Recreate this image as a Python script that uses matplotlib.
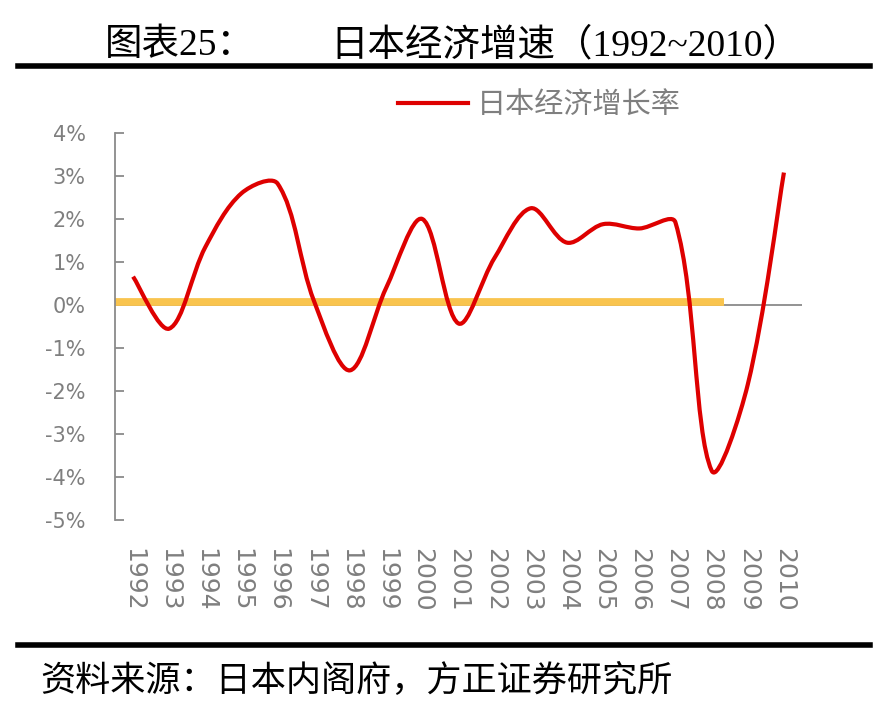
import matplotlib
matplotlib.use("Agg")
import matplotlib.pyplot as plt
import numpy as np
from matplotlib.path import Path
from matplotlib.patches import PathPatch
from matplotlib.lines import Line2D

# ---- data ----
years = ["1992", "1993", "1994", "1995", "1996", "1997", "1998", "1999", "2000",
         "2001", "2002", "2003", "2004", "2005", "2006", "2007", "2008", "2009", "2010"]
growth = [0.66, -0.55, 1.35, 2.6, 2.82, 0.1, -1.52, 0.4, 2.0,
          -0.43, 1.1, 2.25, 1.45, 1.88, 1.78, 1.92, -3.85, -1.85, 3.08]
yellow_x = [-0.55, 16.33]
yellow_y = [0.07, 0.07]
yticks = [-5, -4, -3, -2, -1, 0, 1, 2, 3, 4]
series_name = "日本经济增长率"
title_left = "图表25："
title_right = "日本经济增速（1992~2010）"
source_text = "资料来源：日本内阁府，方正证券研究所"

CJK = ["Noto Sans CJK SC", "DejaVu Sans"]
SERIF_CJK = ["Liberation Serif", "Noto Sans CJK SC"]
plt.rcParams["font.family"] = CJK

W, H = 888, 704
AX_L, AX_R, AX_T, AX_B = 115, 802, 133, 520
fig = plt.figure(figsize=(W / 100, H / 100), dpi=100)
ax = fig.add_axes([AX_L / W, 1 - AX_B / H, (AX_R - AX_L) / W, (AX_B - AX_T) / H])

x = np.arange(len(years), dtype=float)
y = np.array(growth, dtype=float)
n = len(x)
YMIN, YMAX = -5, 4

# chord-length weighted smooth Bezier (Excel-like smoothing) through the data
sx = (AX_R - AX_L) / n           # pixels per category
sy = (AX_B - AX_T) / (YMAX - YMIN)  # pixels per percent
P = np.column_stack([x, y])
S = np.array([sx, sy])

def dist(a, b):
    return float(np.hypot(*((P[b] - P[a]) * S)))

out_c, in_c = [], []
for i in range(n):
    a, b = max(i - 1, 0), min(i + 1, n - 1)
    T = P[b] - P[a]
    dprev = dist(a, i) if i > 0 else 0.0
    dnext = dist(i, b) if i < n - 1 else 0.0
    tot = dprev + dnext
    if i == 0 or i == n - 1:
        fo = fi = 1.0 / 6.0
    else:
        fo = dnext / tot / 3.0
        fi = dprev / tot / 3.0
    out_c.append(P[i] + T * fo)
    in_c.append(P[i] - T * fi)

verts = [tuple(P[0])]
codes = [Path.MOVETO]
for i in range(n - 1):
    verts += [tuple(out_c[i]), tuple(in_c[i + 1]), tuple(P[i + 1])]
    codes += [Path.CURVE4, Path.CURVE4, Path.CURVE4]

RED = "#DE0000"
GRAY = "#8A8A8A"
TEXTGRAY = "#7F7F7F"

ax.axhline(0, color=GRAY, lw=1.3, zorder=1)
ax.plot(yellow_x, yellow_y, color="#F9C44E", lw=5.6, solid_capstyle="butt", zorder=2)
ax.add_patch(PathPatch(Path(verts, codes), facecolor="none", edgecolor=RED,
                       lw=3.0, capstyle="butt", joinstyle="round", zorder=3))

ax.set_xlim(-0.5, n - 0.5)
ax.set_ylim(YMIN, YMAX)
ax.set_yticks(yticks)
ax.set_yticklabels([f"{v}%" for v in yticks], family="DejaVu Sans")
ax.set_xticks(x)
ax.set_xticklabels(years, rotation=-90, family="DejaVu Sans")

for s in ["top", "right", "bottom"]:
    ax.spines[s].set_visible(False)
ax.spines["left"].set_color(GRAY)
ax.spines["left"].set_linewidth(1.3)
ax.tick_params(axis="y", direction="in", length=6.5, width=1.3, color=GRAY,
               labelsize=15, labelcolor=TEXTGRAY, pad=21)
ax.tick_params(axis="x", length=0, labelsize=18, labelcolor=TEXTGRAY, pad=20)
for lab in ax.get_xticklabels():
    lab.set_verticalalignment("top")
    lab.set_horizontalalignment("center")
ax.patch.set_alpha(0)

handle = Line2D([], [], color=RED, lw=3.0, label=series_name)
leg = ax.legend(handles=[handle], loc="center left",
                bbox_to_anchor=(398 / W, 1 - 105 / H), bbox_transform=fig.transFigure,
                frameon=False, borderpad=0, borderaxespad=0, handlelength=2.4,
                handletextpad=0.3, prop={"family": CJK, "size": 21})
for t in leg.get_texts():
    t.set_color(TEXTGRAY)

# title
fig.text(105 / W, 1 - 46 / H, title_left, family=SERIF_CJK, fontsize=27,
         ha="left", va="center", color="black")
fig.text(330 / W, 1 - 46 / H, title_right, family=SERIF_CJK, fontsize=27,
         ha="left", va="center", color="black")

# rules
fig.add_artist(Line2D([18 / W, 870 / W], [1 - 66 / H, 1 - 66 / H], color="black", lw=4))
fig.add_artist(Line2D([18 / W, 870 / W], [1 - 645 / H, 1 - 645 / H], color="black", lw=4))

fig.text(40 / W, 1 - 681 / H, source_text, family=CJK, fontsize=25.3, style="italic",
         ha="left", va="center", color="black")

fig.savefig("out.png", dpi=100)
